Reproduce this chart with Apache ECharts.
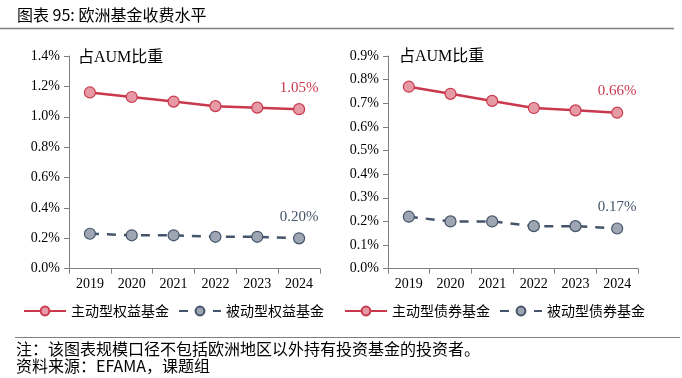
<!DOCTYPE html>
<html>
<head>
<meta charset="utf-8">
<script src="https://cdn.jsdelivr.net/npm/echarts@6/dist/echarts.min.js"></script>
<style>html,body{margin:0;padding:0;background:#fff}#c{width:682px;height:378px}</style>
</head>
<body>
<div id="c"></div>
<script>
const years = ['2019','2020','2021','2022','2023','2024'];
const activeEquity = [1.16, 1.13, 1.10, 1.07, 1.06, 1.05];
const passiveEquity = [0.23, 0.22, 0.22, 0.21, 0.21, 0.20];
const activeBond = [0.77, 0.74, 0.71, 0.68, 0.67, 0.66];
const passiveBond = [0.22, 0.20, 0.20, 0.18, 0.18, 0.17];

const RED = '#C9384C';
const BLUE = '#44546A';
const RED_FILL = '#E69AA5';
const BLUE_FILL = '#9EA6B4';
const serif = '"Liberation Serif", "Times New Roman", serif';
const cjk = '"Noto Sans CJK SC", sans-serif';
const lastLabel = (color) => ({
  show: true, position: 'top', distance: 8, color: color,
  fontFamily: serif, fontSize: 15,
  formatter: p => p.dataIndex === years.length - 1 ? p.value.toFixed(2) + '%' : ''
});
function mkSeries(name, data, color, fill, dashed, idx){
  return {
    name, type: 'line', data, xAxisIndex: idx, yAxisIndex: idx,
    symbol: 'circle', symbolSize: 11,
    lineStyle: {color, width: 2.5, type: dashed ? [9, 8] : 'solid'},
    itemStyle: {color: fill, borderColor: color, borderWidth: 1.2},
    label: lastLabel(color),
    emphasis: {disabled: true}, animation: false
  };
}
const axisColor = '#7f7f7f';
function xAx(i){
  return {type:'category', gridIndex:i, data: years, boundaryGap: true,
    axisLine:{lineStyle:{color:axisColor, width:1}},
    axisTick:{show:true, length:5, lineStyle:{color:axisColor}},
    axisLabel:{color:'#000', fontFamily:serif, fontSize:14, margin:9}};
}
function yAx(i, max, interval){
  return {type:'value', gridIndex:i, min:0, max, interval,
    axisLine:{show:true, lineStyle:{color:axisColor, width:1}},
    axisTick:{show:true, length:5, lineStyle:{color:axisColor}},
    splitLine:{show:false},
    axisLabel:{color:'#000', fontFamily:serif, fontSize:14, margin:9,
      formatter: v => v.toFixed(1) + '%'}};
}
const legendBase = {
  orient:'horizontal', top: 304, padding: 0, itemWidth: 42, itemHeight: 11, itemGap: 9,
  textStyle:{color:'#000', fontFamily:cjk, fontSize:14}
};
const chart = echarts.init(document.getElementById('c'));
chart.setOption({
  backgroundColor:'#fff',
  animation:false,
  grid:[
    {left:69, top:56, width:251, height:212.7},
    {left:388, top:56, width:250, height:212.7}
  ],
  xAxis:[xAx(0), xAx(1)],
  yAxis:[yAx(0, 1.4, 0.2), yAx(1, 0.9, 0.1)],
  legend:[
    Object.assign({left: 23, data:['主动型权益基金','被动型权益基金']}, legendBase),
    Object.assign({left: 344, data:['主动型债券基金','被动型债券基金']}, legendBase)
  ],
  series:[
    mkSeries('主动型权益基金', activeEquity, RED, RED_FILL, false, 0),
    mkSeries('被动型权益基金', passiveEquity, BLUE, BLUE_FILL, true, 0),
    mkSeries('主动型债券基金', activeBond, RED, RED_FILL, false, 1),
    mkSeries('被动型债券基金', passiveBond, BLUE, BLUE_FILL, true, 1)
  ],
  graphic:[
    {type:'text', left:17, top:7, style:{text:'图表 95: 欧洲基金收费水平', fill:'#000', font:'16px "Noto Sans CJK SC", sans-serif'}},
    {type:'line', shape:{x1:0, y1:28.5, x2:674, y2:28.5}, style:{stroke:'#7f7f7f', lineWidth:1.5}},
    {type:'text', left:78, top:50, style:{text:'占AUM比重', fill:'#000', font:'16px "Liberation Serif", "Noto Sans CJK SC", serif'}},
    {type:'text', left:399, top:49, style:{text:'占AUM比重', fill:'#000', font:'16px "Liberation Serif", "Noto Sans CJK SC", serif'}},
    {type:'line', shape:{x1:15, y1:337.5, x2:680, y2:337.5}, style:{stroke:'#7f7f7f', lineWidth:1.2}},
    {type:'text', left:16, top:341, style:{text:'注：该图表规模口径不包括欧洲地区以外持有投资基金的投资者。', fill:'#000', font:'16px "Noto Sans CJK SC", sans-serif'}},
    {type:'text', left:16, top:358, style:{text:'资料来源：EFAMA，课题组', fill:'#000', font:'16px "Noto Sans CJK SC", sans-serif'}}
  ]
});
</script>
</body>
</html>
